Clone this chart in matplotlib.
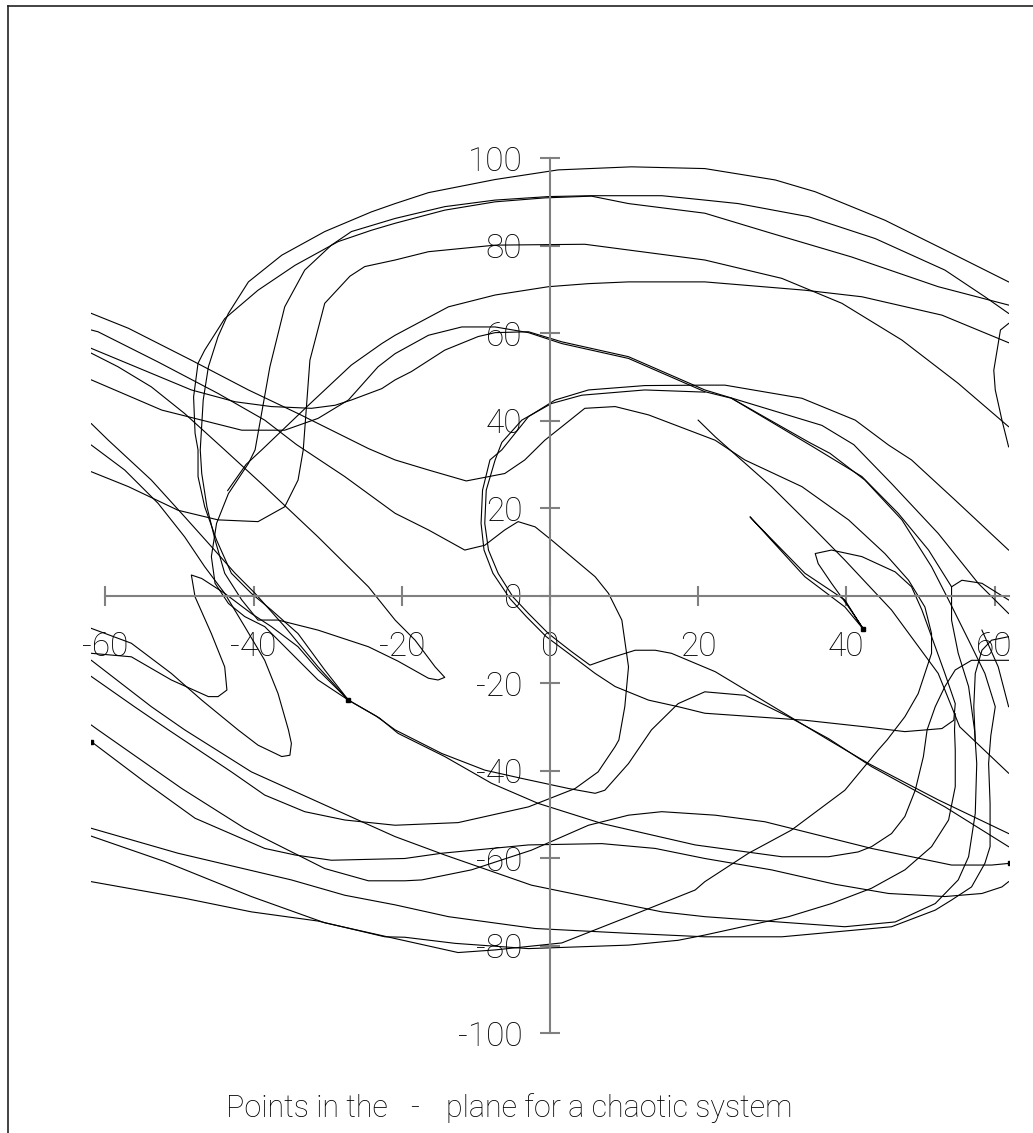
import matplotlib
matplotlib.use("Agg")
import matplotlib.pyplot as plt
from matplotlib.lines import Line2D

plt.rcParams["font.family"] = ["Roboto", "DejaVu Sans"]
plt.rcParams["font.weight"] = "light"
plt.rcParams["axes.unicode_minus"] = False

# pieces of the trajectory as (x, y)
outer_arc = [(61.9, 71.7), (53.3, 79.0), (45.2, 85.8), (35.8, 92.3), (30.4, 95.0), (20.9, 97.6), (11.0, 98.0),
             (1.1, 97.3), (-7.4, 95.1), (-16.4, 92.1), (-20.9, 89.6), (-24.1, 87.7), (-30.4, 83.2), (-36.2, 77.8),
             (-40.7, 71.7), (-43.4, 64.5), (-44.8, 59.2), (-46.1, 52.3), (-46.8, 44.7), (-47.2, 33.3), (-47.0, 27.9),
             (-46.3, 20.3), (-45.2, 12.7), (-43.9, 5.1), (-41.6, -1.0), (-39.4, -5.6), (-36.7, -5.6), (-31.3, -7.9),
             (-24.5, -11.7), (-20.5, -15.0), (-16.4, -18.9), (-15.1, -19.3), (-14.2, -18.7), (-15.5, -16.3),
             (-18.2, -10.2), (-20.9, -5.6), (-24.5, 2.0), (-31.3, 13.4), (-38.5, 24.9), (-43.9, 33.3), (-49.3, 41.6),
             (-53.8, 47.7), (-58.3, 52.3), (-61.9, 55.4)]

inner_c = [(61.9, 64.5), (58.7, 68.3), (53.3, 74.4), (43.9, 81.6), (34.9, 86.6), (25.4, 89.6), (20.9, 90.4),
           (15.1, 91.4), (5.6, 91.4), (-0.2, 91.2), (-7.4, 90.4), (-14.2, 88.9), (-20.9, 86.2), (-26.8, 83.2),
           (-29.5, 80.1), (-33.1, 74.4), (-35.8, 66.0), (-37.8, 52.3), (-39.8, 33.3), (-40.7, 30.2), (-43.4, 23.3),
           (-45.0, 16.5), (-45.7, 8.9), (-45.2, 2.8), (-43.4, -1.8), (-41.2, -4.8), (-38.5, -7.1), (-34.9, -13.2),
           (-31.3, -19.3), (-27.2, -23.9), (-23.5, -27.5), (-20.9, -30.7), (-14.6, -36.1), (-8.8, -39.9),
           (-3.8, -41.8), (2.5, -44.1), (6.1, -45.2), (7.4, -44.5), (10.6, -38.4), (13.7, -30.7), (17.3, -24.7),
           (20.9, -22.0), (26.3, -22.8), (32.2, -27.7), (37.6, -32.7), (43.4, -39.1), (53.3, -48.3), (61.9, -57.4)]

third_c = [(61.9, 66.4), (52.4, 70.6), (40.7, 77.4), (29.9, 82.8), (20.9, 87.4), (10.6, 89.6), (5.6, 91.3),
           (-0.7, 90.9), (-7.4, 90.0), (-14.2, 88.1), (-20.9, 85.1), (-24.1, 83.5), (-28.6, 80.9), (-34.4, 75.5),
           (-39.4, 69.8), (-43.9, 63.3), (-46.6, 56.1), (-47.5, 53.1), (-48.1, 45.4), (-47.9, 37.1), (-47.5, 33.3),
           (-47.5, 27.2), (-46.6, 20.3), (-45.0, 12.7), (-43.0, 5.1), (-40.3, 0.5), (-37.6, -3.3), (-34.0, -8.7),
           (-30.4, -17.0), (-27.2, -23.9), (-23.0, -28.0), (-20.5, -31.5), (-14.2, -36.8), (-7.9, -42.9),
           (-1.6, -47.5), (7.0, -52.1), (19.6, -57.0), (31.3, -59.7), (37.6, -59.7), (41.6, -58.6), (43.4, -57.4),
           (46.1, -54.4), (47.9, -50.5), (49.3, -44.5), (50.4, -36.8), (50.9, -30.7), (52.0, -25.4), (53.3, -20.8),
           (54.7, -17.0), (56.9, -14.8), (61.9, -14.8)]

fourth_c = [(61.9, 38.6), (55.1, 48.5), (47.5, 58.4), (39.4, 66.8), (31.3, 72.5), (20.9, 76.7), (4.7, 80.3),
            (-7.4, 80.1), (-16.4, 78.6), (-20.9, 76.7), (-25.0, 75.2), (-27.0, 73.0), (-30.4, 66.8), (-32.4, 53.8),
            (-32.8, 44.7), (-33.3, 33.3), (-34.0, 26.4), (-35.8, 20.3), (-39.4, 16.9), (-44.8, 17.3), (-50.2, 19.5),
            (-56.9, 24.9), (-61.9, 28.3)]

falling_e = [(61.9, 57.8), (52.9, 64.1), (42.1, 68.3), (34.4, 69.8), (20.9, 71.7), (10.6, 71.7), (5.2, 71.3),
             (-0.2, 70.6), (-7.4, 68.7), (-13.7, 66.0), (-20.9, 59.5), (-22.7, 57.6), (-26.8, 52.7), (-32.6, 43.5),
             (-38.9, 33.3), (-41.0, 30.0), (-43.5, 24.0)]

band_f = [(-61.9, 56.5), (-53.8, 50.8), (-48.4, 47.0), (-42.5, 44.3), (-37.6, 43.2), (-32.2, 42.8), (-29.0, 43.5),
          (-26.8, 44.7), (-22.7, 47.3), (-20.9, 49.3), (-18.7, 51.2), (-14.2, 56.1), (-9.7, 59.2), (-7.4, 60.1),
          (-2.9, 60.3), (1.6, 58.0), (10.6, 54.6), (20.9, 47.0), (25.4, 44.7), (36.7, 38.9), (41.0, 34.5),
          (46.1, 25.6), (52.4, 14.2), (57.8, 2.8), (61.9, -4.1)]

band_g = [(-61.9, 49.3), (-52.4, 42.4), (-41.6, 37.8), (-35.8, 37.8), (-31.3, 40.5), (-27.2, 44.7), (-23.2, 52.3),
          (-20.9, 55.3), (-16.4, 59.5), (-11.9, 61.4), (-7.4, 61.4), (-2.9, 60.1), (1.6, 57.6), (10.6, 54.2),
          (20.9, 46.6), (24.5, 45.1), (35.0, 35.0), (37.8, 32.5), (42.5, 26.4), (47.5, 17.3), (51.5, 6.6),
          (53.8, -1.0), (56.5, -10.2), (58.7, -17.8), (60.1, -25.4), (59.5, -32.0), (59.2, -38.4), (59.4, -47.5),
          (59.4, -57.4), (58.7, -61.2), (56.9, -66.6), (54.2, -69.6), (52.0, -71.9), (46.1, -75.7), (31.3, -78.0),
          (20.9, -78.0), (10.6, -77.2), (-2.0, -76.1), (-13.7, -73.4), (-20.9, -70.7), (-27.7, -68.5),
          (-34.9, -65.0), (-50.2, -58.9), (-61.9, -53.2)]

circle_i = [(61.9, 10.4), (54.7, 21.8), (48.8, 31.0), (45.7, 34.4), (41.2, 40.1), (34.0, 45.1), (23.6, 48.1),
            (20.9, 48.1), (12.8, 48.0), (5.2, 47.0), (0.7, 44.7), (-2.9, 40.9), (-6.5, 33.3), (-8.1, 31.0),
            (-9.1, 24.1), (-9.3, 16.5), (-8.9, 10.4), (-7.7, 5.1), (-5.4, -0.7), (-3.2, -4.8), (-0.5, -9.4),
            (2.5, -13.2), (6.1, -17.8), (8.8, -20.8), (13.3, -23.9), (17.3, -25.4), (20.9, -26.9), (34.4, -28.5),
            (42.5, -30.0), (47.9, -31.1), (52.9, -30.4), (54.5, -28.5), (54.7, -24.7), (53.3, -17.8), (52.0, -11.7),
            (50.2, -3.3), (48.8, 2.0), (46.6, 5.4), (42.1, 8.9), (38.0, 10.4), (35.8, 9.6), (36.2, 7.3), (38.0, 2.8),
            (40.3, -2.6), (42.1, -7.1), (42.3, -7.7), (39.8, -2.6), (34.4, 4.3), (27.0, 18.0), (27.2, 17.6),
            (34.4, 5.1), (39.8, -1.0), (42.3, -7.7)]

circle_h = [(20.9, 46.5), (12.8, 47.0), (4.3, 45.8), (0.2, 43.9), (-3.8, 40.1), (-6.5, 35.0), (-7.4, 31.0),
            (-8.6, 24.1), (-8.8, 16.5), (-8.3, 10.4), (-7.0, 5.1), (-5.0, -0.3), (-2.9, -4.1), (-0.2, -8.7),
            (2.9, -12.8), (5.4, -15.9), (7.9, -14.4), (11.5, -12.5), (14.2, -12.5), (16.4, -13.2), (22.3, -17.4),
            (37.6, -33.0), (43.0, -38.4), (52.4, -46.7), (61.9, -54.4)]

long_k = [(-61.9, 64.5), (-56.9, 61.1), (-48.4, 53.8), (-40.7, 47.0), (-34.0, 41.6), (-24.5, 33.6), (-20.9, 31.0),
          (-16.4, 28.7), (-11.3, 26.2), (-6.1, 27.9), (-3.4, 31.0), (-0.7, 35.5), (1.6, 38.6), (4.7, 42.8),
          (8.8, 43.2), (13.3, 41.3), (22.3, 35.5), (26.3, 31.0), (34.0, 24.9), (40.3, 17.3), (45.2, 9.6),
          (48.4, 3.5), (50.6, -2.6), (51.5, -8.7), (51.5, -13.2), (49.7, -22.4), (47.9, -27.7), (45.5, -33.0),
          (44.3, -35.3), (39.8, -44.5), (32.6, -53.6), (26.8, -58.9), (20.9, -65.4), (19.6, -67.3), (10.6, -73.4),
          (1.6, -79.4), (-7.4, -81.0), (-12.4, -81.6), (-20.9, -78.4), (-30.4, -74.8), (-40.3, -68.8),
          (-52.0, -60.8), (-61.9, -55.0)]

diagonal_l = [(20.0, 40.1), (22.3, 36.3), (29.9, 24.9), (35.8, 15.0), (39.8, 8.1), (46.1, -3.3), (52.4, -17.8),
              (55.3, -30.0), (61.9, -40.6)]

band_m = [(24.5, 45.1), (35.5, 34.0), (42.1, 27.2), (47.0, 18.8), (51.1, 10.4), (54.2, 2.0), (54.2, -5.6),
          (55.1, -13.2), (56.5, -20.8), (57.3, -30.7), (57.6, -38.4), (57.4, -49.8), (56.5, -59.7), (55.1, -65.0),
          (52.0, -70.4), (46.6, -74.6), (39.8, -75.7), (20.9, -73.4), (15.1, -72.3), (6.1, -69.2), (-2.5, -66.2),
          (-14.2, -59.3), (-20.9, -55.1), (-25.9, -51.3), (-40.3, -40.3), (-49.3, -30.7), (-53.8, -25.4),
          (-61.9, -14.8)]

right_loop = [(61.9, 62.2), (60.8, 60.7), (59.9, 51.5), (60.1, 47.0), (61.0, 40.1), (61.9, 34.0)]

right_hook = [(61.9, -1.0), (58.3, 2.8), (55.6, 3.5), (54.2, 2.0)]
right_drop = [(61.9, -9.4), (59.6, -10.2), (58.3, -12.5), (57.4, -17.8), (57.2, -25.4), (57.4, -33.0)]
right_tail = [(58.3, -7.9), (60.5, -16.3), (61.9, -25.4)]

band_p = [(-61.9, 60.7), (-61.0, 60.3), (-52.9, 53.4), (-44.8, 46.2), (-38.5, 40.1), (-34.2, 34.5), (-27.7, 27.2),
          (-20.9, 18.8), (-16.4, 15.0), (-11.5, 10.4), (-8.8, 11.5), (-6.1, 15.0), (-4.3, 16.9), (-2.0, 15.7),
          (0.2, 12.7), (6.1, 4.3), (7.9, 0.5), (9.7, -5.6), (10.6, -16.3), (10.1, -25.4), (9.3, -33.0),
          (8.8, -34.5), (6.5, -40.3), (3.4, -44.1), (-2.9, -48.3), (-12.4, -51.9), (-20.9, -52.5), (-27.7, -51.3),
          (-33.1, -49.4), (-38.5, -45.6), (-43.0, -40.3), (-51.5, -30.7), (-56.0, -25.5), (-61.9, -18.5)]

narrow_v = [(-61.9, 34.4), (-57.4, 28.7), (-52.9, 21.1), (-49.3, 13.4), (-46.6, 6.6), (-43.9, 0.5), (-41.2, -7.1),
            (-38.5, -14.8), (-36.7, -22.4), (-35.3, -30.7), (-34.9, -33.8), (-35.1, -36.5), (-36.2, -36.8),
            (-39.4, -34.2), (-42.1, -30.7), (-47.0, -23.9), (-51.1, -17.8), (-56.5, -10.9), (-61.9, -7.5)]

narrow_loop = [(-61.9, -13.2), (-56.5, -14.0), (-51.1, -19.3), (-46.1, -23.1), (-44.8, -23.1), (-43.6, -21.6),
               (-43.9, -16.3), (-45.7, -8.7), (-47.9, -0.3), (-48.4, 4.7), (-47.0, 3.9), (-43.9, 0.5), (-40.3, -4.1),
               (-37.6, -7.1), (-34.0, -11.7), (-31.3, -17.0), (-27.2, -23.9)]

steep_q = [(-61.9, 39.3), (-59.6, 35.5), (-53.8, 26.4), (-49.3, 18.0), (-45.7, 11.2), (-42.5, 5.1), (-39.8, 0.5),
           (-35.8, -7.1), (-31.3, -16.3), (-27.2, -23.9)]

band_r = [(-61.9, -29.6), (-61.0, -30.7), (-49.7, -44.1), (-41.2, -53.2), (-30.4, -62.4), (-24.5, -65.2),
          (-19.6, -65.2), (-17.3, -65.0), (-10.6, -62.7), (-2.5, -58.2), (5.2, -52.5), (10.6, -50.2), (15.1, -49.4),
          (22.3, -50.2), (29.0, -51.7), (43.4, -57.8), (54.2, -61.6), (59.6, -61.6), (62.1, -61.2)]

band_d = [(-61.9, -33.4), (-54.7, -42.6), (-47.9, -50.9), (-38.5, -57.8), (-34.4, -59.3), (-29.5, -60.5),
          (-19.6, -60.1), (-14.6, -58.9), (-2.9, -57.0), (7.0, -56.7), (14.2, -57.8), (20.9, -60.1), (29.9, -62.7),
          (38.5, -66.0), (45.7, -68.1), (53.3, -68.8), (58.3, -68.1), (61.0, -66.6), (61.9, -65.4)]

band_s = [(-61.9, -65.4), (-49.3, -69.2), (-40.3, -72.3), (-31.3, -74.4), (-22.3, -78.0), (-19.6, -78.1),
          (-12.8, -79.5), (-2.9, -80.7), (10.6, -79.9), (17.3, -78.8), (20.9, -77.6), (32.2, -73.4), (38.0, -70.4),
          (43.4, -66.9), (47.9, -62.7), (51.5, -57.4), (53.8, -51.3), (54.7, -43.7), (54.7, -35.3), (54.6, -30.7),
          (54.7, -27.0)]

pieces = [outer_arc, inner_c, third_c, fourth_c, falling_e, band_f, band_g, circle_i, circle_h, long_k,
          diagonal_l, band_m, right_loop, right_hook, right_drop, right_tail, band_p, narrow_v, narrow_loop,
          steep_q, band_r, band_d, band_s]

end_points = [(-61.9, -33.4), (-27.2, -23.9), (42.3, -7.7), (62.1, -61.2)]

x_ticks = [-60, -40, -20, 0, 20, 40, 60]
y_ticks = [-100, -80, -60, -40, -20, 0, 20, 40, 60, 80, 100]
title_parts = ["Points in the", "-", "plane for a chaotic system"]

fig = plt.figure(figsize=(10.33, 11.33), dpi=100)
ax = fig.add_axes([0.0877, 0.0805, 0.8894, 0.7877])

for piece in pieces:
    xs = [p[0] for p in piece]
    ys = [p[1] for p in piece]
    ax.plot(xs, ys, color="black", lw=0.8, solid_joinstyle="round")

ax.plot([p[0] for p in end_points], [p[1] for p in end_points], ls="none", marker="s", ms=3, color="black")

ax.set_xlim(-62, 62)
ax.set_ylim(-102, 102)

gray = "#808080"
for side in ("top", "right"):
    ax.spines[side].set_visible(False)
ax.spines["left"].set_position(("data", 0))
ax.spines["bottom"].set_position(("data", 0))
ax.spines["left"].set_bounds(-100, 100)
ax.spines["bottom"].set_bounds(-60, 62)
for side in ("left", "bottom"):
    ax.spines[side].set_color(gray)
    ax.spines[side].set_linewidth(1.5)

ax.set_xticks(x_ticks)
ax.set_yticks(y_ticks)
ax.set_xticklabels([str(t) for t in x_ticks])
ax.set_yticklabels([str(t) for t in y_ticks])
ax.tick_params(direction="inout", length=15, width=1.5, color=gray, labelsize=24, labelcolor="black")
ax.tick_params(axis="y", pad=12.5)
ax.tick_params(axis="x", pad=18)

# the title has two missing symbols, so its three parts sit where the reference shows them
title_y = 1 - 1117 / 1133
fig.text(388 / 1033, title_y, title_parts[0], fontsize=22, ha="right", va="baseline")
fig.text(415 / 1033, title_y, title_parts[1], fontsize=22, ha="center", va="baseline")
fig.text(446 / 1033, title_y, title_parts[2], fontsize=22, ha="left", va="baseline")

# frame lines on the top and left edges
fig.add_artist(Line2D([8 / 1033, 8 / 1033], [0, 1 - 6 / 1133], transform=fig.transFigure, color="#222222", lw=1.2))
fig.add_artist(Line2D([8 / 1033, 1], [1 - 6 / 1133, 1 - 6 / 1133], transform=fig.transFigure, color="#222222", lw=1.2))

fig.savefig("out.png", dpi=100)
